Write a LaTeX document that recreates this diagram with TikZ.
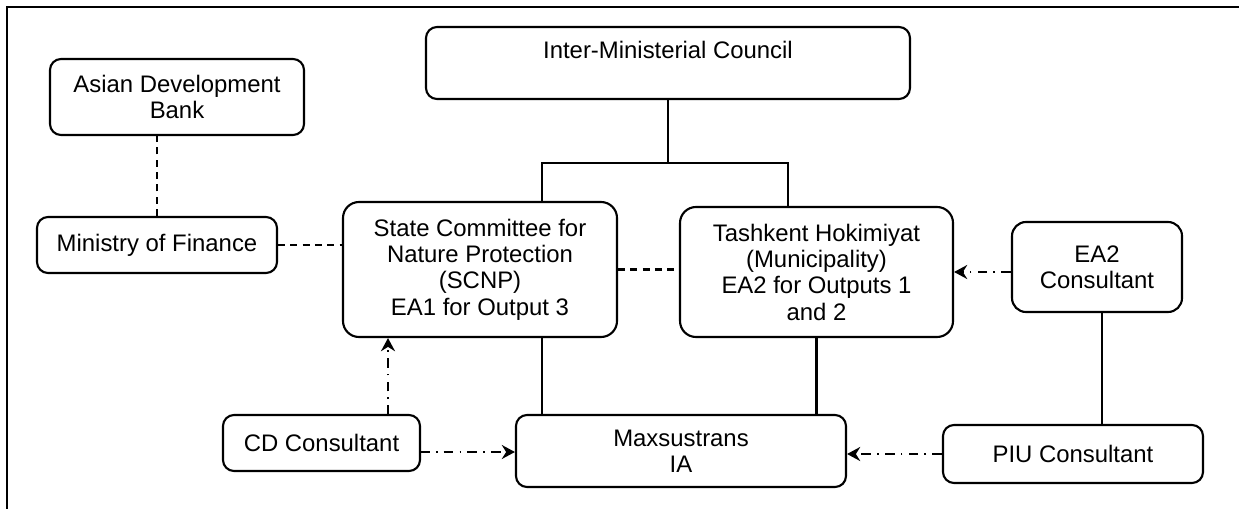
\documentclass[tikz,border=0pt]{standalone}
\usepackage{fontspec}
\setmainfont{Liberation Sans}
\usetikzlibrary{arrows.meta,calc}
\begin{document}
\begin{tikzpicture}[
  orgbox/.style={draw,line width=1.2pt,rounded corners=0.22cm,inner sep=0pt,align=center,
    font=\fontsize{13.6}{15}\selectfont},
  dashlink/.style={line width=1.2pt,dash pattern=on 4pt off 3pt},
  dotlink/.style={line width=1.4pt,dash pattern=on 5.5pt off 3.5pt on 1pt off 3.5pt,
    -{Stealth[length=7.5pt,width=8pt,inset=2.5pt]}},
  solidlink/.style={line width=1.2pt}]
%\draw[help lines] (0,0) grid (24.78,-10.16);
\useasboundingbox (0,0) rectangle (24.78,-10.16);
\draw[line width=1.7pt] (0.14,-10.3) -- (0.14,-0.14) -- (24.9,-0.14);
\node[orgbox,minimum width=9.68cm,minimum height=1.44cm] (imc) at (13.36,-1.26) {Inter-Ministerial Council\\~};
\node[orgbox,minimum width=5.08cm,minimum height=1.52cm] (adb) at (3.54,-1.94) {Asian Development\\Bank};
\node[orgbox,minimum width=4.80cm,minimum height=1.12cm] (mof) at (3.14,-4.90) {Ministry of Finance};
\node[orgbox,minimum width=5.48cm,minimum height=2.70cm,rounded corners=0.32cm] (scnp) at (9.60,-5.39) {State Committee for\\Nature Protection\\(SCNP)\\EA1 for Output 3};
\node[orgbox,minimum width=5.46cm,minimum height=2.60cm,rounded corners=0.32cm] (tash) at (16.33,-5.44) {Tashkent Hokimiyat\\(Municipality)\\EA2 for Outputs 1\\and 2};
\node[orgbox,minimum width=3.40cm,minimum height=1.80cm,rounded corners=0.28cm] (ea2) at (21.94,-5.34) {EA2\\Consultant};
\node[orgbox,minimum width=3.94cm,minimum height=1.12cm] (cd) at (6.43,-8.86) {CD Consultant};
\node[orgbox,minimum width=6.60cm,minimum height=1.44cm] (max) at (13.62,-9.02) {Maxsustrans\\IA};
\node[orgbox,minimum width=5.20cm,minimum height=1.16cm] (piu) at (21.46,-9.08) {PIU Consultant};
\coordinate (jl) at (10.84,-3.26);
\coordinate (jr) at (15.76,-3.26);
\coordinate (cdup) at (7.76,-8.30);
\coordinate (cdright) at (8.40,-9.04);
% solid lines
\draw[solidlink] (imc.south) -- (imc.south |- jl);
\draw[solidlink] (scnp.north -| jl) -- (jl) -- (jr) -- (jr |- tash.north);
\draw[solidlink] (jl |- scnp.south) -- (jl |- max.north);
\draw[solidlink] (tash.south) -- (tash.south |- max.north);
\draw[solidlink] (ea2.south -| 22.04,0) -- (22.04,0 |- piu.north);
% dashed lines
\draw[dashlink] (mof.north) -- (mof.north |- adb.south);
\draw[dashlink] (mof.east) -- (mof.east -| scnp.west);
\draw[dashlink] (scnp.east) -- (scnp.east -| tash.west);
% consultants
\draw[dotlink] (tash.east -| ea2.west) -- (tash.east);
\draw[dotlink] (cdup) -- (cdup |- scnp.south);
\draw[dotlink] (cdright) -- (cdright -| max.west);
\draw[dotlink] (piu.west) -- (piu.west -| max.east);
\end{tikzpicture}
\end{document}
